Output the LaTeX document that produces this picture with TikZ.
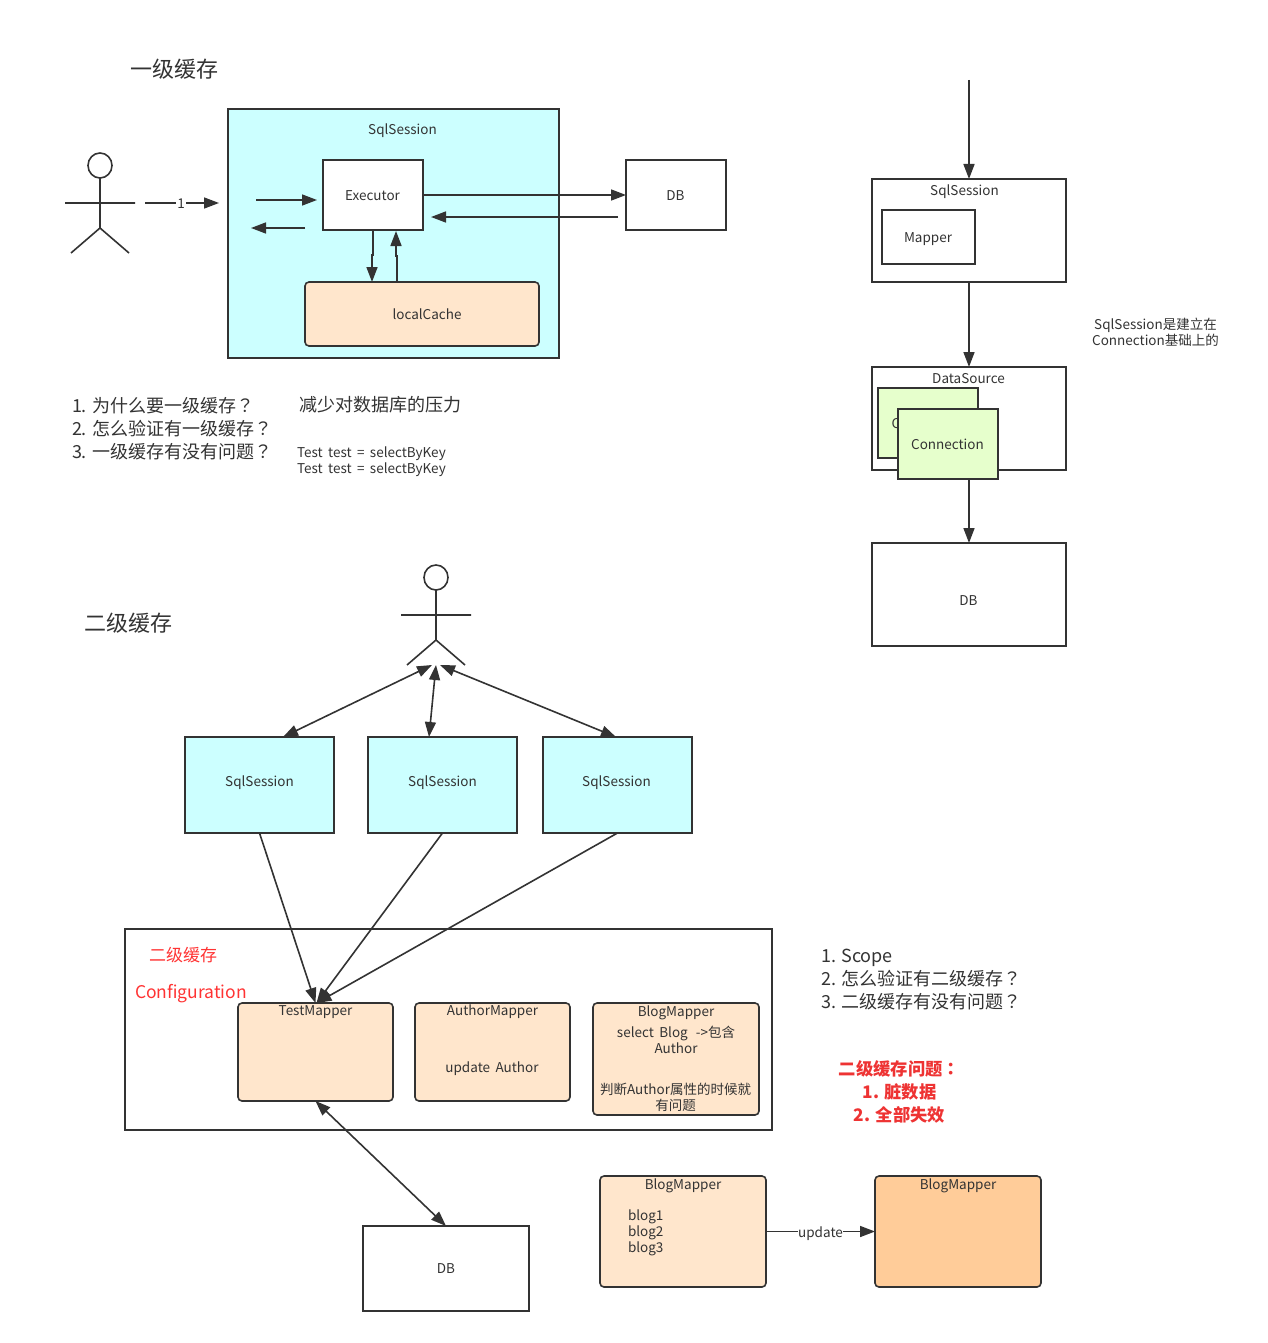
\documentclass[tikz,border=0pt]{standalone}
\usepackage{fontspec}
\setmainfont{Noto Sans CJK SC}
\newfontfamily\tcf{Noto Sans CJK TC}
\newfontfamily\lfam[WordSpace=1.8]{Noto Sans CJK SC}
\usetikzlibrary{arrows.meta,calc,shapes.geometric}
\definecolor{ink}{HTML}{333333}
\definecolor{cyanf}{HTML}{CCFFFF}
\definecolor{peach}{HTML}{FFE6CC}
\definecolor{orangef}{HTML}{FFCC99}
\definecolor{greenf}{HTML}{E6FFCC}
\definecolor{redt}{HTML}{FF3333}
\definecolor{redb}{HTML}{EE3333}
\newcommand{\qm}{{\tcf ？}}
\tikzset{
  box/.style={draw=ink,line width=1.6pt,inner sep=0,outer sep=0,rectangle},
  rbox/.style={box,rounded corners=4pt},
  conn/.style={draw=ink,line width=1.6pt,-{Triangle[length=15pt,width=11pt]}},
  biconn/.style={draw=ink,line width=1.6pt,{Triangle[length=15pt,width=11pt]}-{Triangle[length=15pt,width=11pt]}},
  actorline/.style={draw=ink,line width=1.6pt},
  mlab/.style={inner sep=0,outer sep=0,text=ink,font=\lfam\fontsize{13.5}{16}\selectfont,align=center},
  lab/.style={mlab,text height=11pt,text depth=0pt},
  lableft/.style={mlab,anchor=west,align=left},
  lst/.style={lableft,font=\fontsize{18}{23}\selectfont},
  head/.style={lableft,font=\fontsize{22}{26}\selectfont},
}
\newcommand{\bx}[6]{\node[#6,minimum width={(#4)-(#2)},minimum height={(#5)-(#3)}] (#1) at ({((#2)+(#4))/2},{((#3)+(#5))/2}) {};}
\newcommand{\actor}[3]{% name, x, head y
  \node[draw=ink,line width=1.6pt,ellipse,inner sep=0,outer sep=0,minimum width=24pt,minimum height=25pt,fill=white] (#1h) at (#2,#3) {};
  \coordinate (#1hip) at (#2,#3+62.5);
  \coordinate (#1al) at (#2-35,#3+37.5);
  \coordinate (#1ar) at (#2+35,#3+37.5);
  \coordinate (#1ll) at (#2-29,#3+87.5);
  \coordinate (#1lr) at (#2+29,#3+87.5);
  \draw[actorline] (#1h.south) -- (#1hip) (#1al) -- (#1ar) (#1ll) -- (#1hip) -- (#1lr);
}
\begin{document}
\begin{tikzpicture}[x=1pt,y=-1pt]
\useasboundingbox (0,0) rectangle (1267,1343);
\fill[white] (0,0) rectangle (1267,1343);

% ---- first level cache
\node[head] (t1) at (130,69) {一级缓存};
\actor{a}{100}{165.5}
\bx{ss}{228}{109}{559}{358}{box,fill=cyanf}
\node[lab] (sst) at (402.5,129) {SqlSession};
\bx{ex}{323}{160}{423}{230}{box,fill=white}
\node[lab] at (372.5,195) {Executor};
\bx{db1}{626}{160}{726}{230}{box,fill=white}
\node[lab] at (675.5,195) {DB};
\bx{lc}{305}{282}{539}{346}{rbox,fill=peach}
\node[lab] at (427,314) {localCache};
\coordinate (c1a) at (145,203);
\coordinate (c1b) at (219,203);
\draw[conn] (c1a) -- node[lab,fill=white,inner xsep=1pt,xshift=-1pt] {1} (c1b);
\coordinate (c2a) at (256,200);
\coordinate (c2b) at (317,200);
\draw[conn] (c2a) -- (c2b);
\coordinate (c3a) at (305,228);
\coordinate (c3b) at (251,228);
\draw[conn] (c3a) -- (c3b);
\coordinate (c4a) at (618,217);
\coordinate (c4b) at (431,217);
\draw[conn] (ex.east) -- (db1.west);
\draw[conn] (c4a) -- (c4b);
\draw[conn] (ex.south) -- (373,255) -- (372,255) -- (372,282);
\draw[conn] (397,282) -- (397,256) -- (396,256) -- (396,231);

% ---- right stack
\coordinate (top) at (969,80);
\bx{ss2}{872}{179}{1066}{282}{box,fill=white}
\node[lab] at (964.5,190) {SqlSession};
\bx{map}{882}{210}{975}{264}{box,fill=white}
\node[lab] at (928,237) {Mapper};
\bx{ds}{872}{367}{1066}{470}{box,fill=white}
\node[lab] at (968.5,378) {DataSource};
\bx{cb}{878}{388}{978}{458}{box,fill=greenf}
\node[lab] at (928,423) {Connection};
\bx{cf}{898}{409}{998}{479}{box,fill=greenf}
\node[lab] at (947.5,444) {Connection};
\bx{db2}{872}{543}{1066}{646}{box,fill=white}
\node[lab] at (968.5,600) {DB};
\draw[conn] (top) -- (ss2.north);
\draw[conn] (ss2.south) -- (ds.north);
\draw[conn] (969,479) -- (db2.north);
\node[mlab] (note) at (1155.5,332) {SqlSession是建立在\\Connection基础上的};

% ---- questions
\node[lst] at (72,428.5) {1. 为什么要一级缓存\qm\\2. 怎么验证有一级缓存\qm\\3. 一级缓存有没有问题\qm};
\node[lst] at (299,405) {减少对数据库的压力};
\node[lableft] at (297,462) {Test test = selectByKey\\Test test = selectByKey};

% ---- second level cache
\node[head] at (84,623) {二级缓存};
\actor{b}{436}{577.5}
\bx{s1}{185}{737}{334}{833}{box,fill=cyanf}
\node[lab] at (259.5,781) {SqlSession};
\bx{s2}{368}{737}{517}{833}{box,fill=cyanf}
\node[lab] at (442.5,781) {SqlSession};
\bx{s3}{543}{737}{692}{833}{box,fill=cyanf}
\node[lab] at (616.5,781) {SqlSession};
\coordinate (ba) at (432,665);
\coordinate (bb) at (436,665);
\coordinate (bc) at (440,665);
\draw[biconn] (ba) -- (283,737);
\draw[biconn] (bb) -- (429,737);
\draw[biconn] (bc) -- (616,737);

\bx{cfg}{125}{929}{772}{1130}{box,fill=white}
\node[lableft,text=redt,font=\fontsize{17}{20}\selectfont] at (149,955) {二级缓存};
\node[lableft,text=redt,font=\fontsize{17.5}{22}\selectfont] at (135,994) {Configuration};
\bx{tm}{238}{1003}{393}{1101}{rbox,fill=peach}
\node[lab] at (315.5,1010) {TestMapper};
\bx{am}{415}{1003}{570}{1101}{rbox,fill=peach}
\node[lab] at (492.5,1010) {AuthorMapper};
\node[lab] at (492,1067) {update Author};
\bx{bm}{593}{1003}{759}{1115}{rbox,fill=peach}
\node[lab] at (676,1011) {BlogMapper};
\node[mlab] at (676,1040) {select Blog\hspace{8pt}->包含\\Author};
\node[mlab] at (675.5,1097.5) {判断Author属性的时候就\\有问题};
\draw[conn] (s1.south) -- ([xshift=0]tm.north);
\draw[conn] (s2.south) -- ([xshift=1]tm.north);
\draw[conn] (s3.south) -- ([xshift=1]tm.north);

\node[lst] at (821,980) {1. Scope\\2. 怎么验证有二级缓存\qm\\3. 二级缓存有没有问题\qm};
\node[mlab,text=redb,font=\bfseries\fontsize{17.3}{23}\selectfont] at (899.5,1092) {二级缓存问题{\tcf ：}\\1. 脏数据\\2. 全部失效};

\bx{db3}{363}{1226}{529}{1311}{box,fill=white}
\node[lab] at (446,1268) {DB};
\draw[biconn] (tm.south) -- (db3.north);
\bx{b1}{600}{1176}{766}{1287}{rbox,fill=peach}
\node[lab] at (683,1184) {BlogMapper};
\node[lableft] at (628,1233) {blog1\\blog2\\blog3};
\bx{b2}{875}{1176}{1041}{1287}{rbox,fill=orangef}
\node[lab] at (958,1184) {BlogMapper};
\draw[conn] (b1.east) -- node[lab,fill=white,inner xsep=0pt] {update} (b2.west);
\end{tikzpicture}
\end{document}
